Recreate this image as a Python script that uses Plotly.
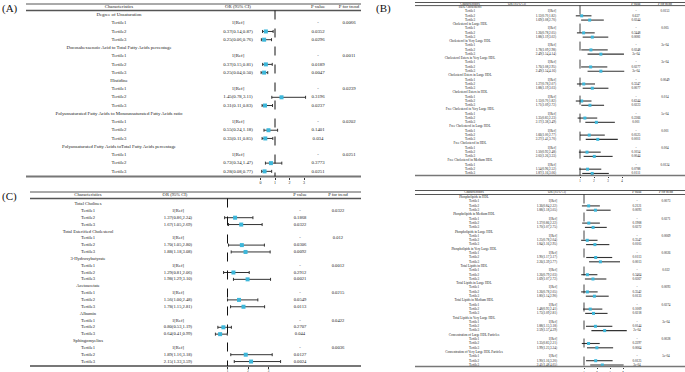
import plotly.graph_objects as go

W, H = 685, 372
FONT = "Liberation Serif"
TXT = "#222222"
MK = "#3DB7DA"
BAR = "#333333"

# ---------------- Panel A data ----------------
a_groups = ["Degree of Unsaturation",
            "Docosahexaenoic Acid to Total Fatty Acids percentage",
            "Histidine",
            "Polyunsaturated Fatty Acids to Monounsaturated Fatty Acids ratio",
            "Polyunsaturated Fatty Acids toTotal Fatty Acids percentage"]
a_or_t2 = [0.37, 0.37, 1.45, 0.55, 0.72]
a_lo_t2 = [0.14, 0.15, 0.78, 0.24, 0.34]
a_hi_t2 = [0.87, 0.81, 3.11, 1.18, 1.47]
a_or_t3 = [0.25, 0.25, 0.31, 0.33, 0.28]
a_lo_t3 = [0.06, 0.04, 0.11, 0.11, 0.08]
a_hi_t3 = [0.76, 0.50, 0.83, 0.85, 0.77]
a_p_t2 = ["0.0352", "0.0189", "0.3196", "0.1401", "0.3773"]
a_p_t3 = ["0.0296", "0.0047", "0.0237", "0.034", "0.0251"]
a_trend = ["0.0066", "0.0011", "0.0239", "0.0202", "0.0251"]
a_ticks = [0, 1, 2, 3]

# ---------------- Panel B data ----------------
b_groups = ["HDL Cholesterol", "Cholesterol in Large HDL", "Cholesterol in Very Large HDL",
            "Cholesterol Esters in Very Large HDL", "Cholesterol Esters in Large HDL",
            "Cholesterol Esters in HDL", "Free Cholesterol in Very Large HDL",
            "Free Cholesterol in Large HDL", "Free Cholesterol in HDL",
            "Free Cholesterol in Medium HDL"]
b_or_t2 = [1.12, 1.26, 1.78, 1.76, 1.27, 1.12, 1.35, 1.66, 1.50, 1.54]
b_lo_t2 = [0.70, 0.78, 1.09, 1.08, 0.78, 0.70, 0.83, 1.00, 0.92, 0.96]
b_hi_t2 = [1.82, 2.05, 2.98, 2.95, 2.07, 1.82, 2.23, 2.77, 2.48, 2.52]
b_or_t3 = [1.69, 1.88, 2.49, 2.49, 1.88, 1.71, 2.17, 2.27, 2.02, 1.87]
b_lo_t3 = [1.08, 1.19, 1.54, 1.54, 1.19, 1.09, 1.38, 1.41, 1.26, 1.16]
b_hi_t3 = [2.70, 3.02, 4.14, 4.16, 3.03, 2.72, 3.49, 3.70, 3.33, 3.06]
b_p_t2 = ["0.637", "0.3448", "0.0248", "0.0277", "0.3347", "0.6344", "0.2266", "0.0525", "0.1054", "0.0788"]
b_p_t3 = ["0.0244", "0.0081", "3e-04", "3e-04", "0.0077", "0.0223", "0.001", "0.0011", "0.0044", "0.0111"]
b_trend = ["0.0153", "0.005", "3e-04", "3e-04", "0.0049", "0.014", "5e-04", "0.001", "0.004", "0.0124"]
b_ticks = [1, 2, 3, 4]

# ---------------- Panel C data ----------------
c_groups = ["Total Cholines", "Total Esterified Cholesterol", "3-Hydroxybutyrate",
            "Acetoacetate", "Albumin", "Sphingomyelins"]
c_or_t2 = [1.37, 1.70, 1.29, 1.56, 0.80, 1.89]
c_lo_t2 = [0.86, 1.05, 0.81, 1.00, 0.53, 1.16]
c_hi_t2 = [2.24, 2.80, 2.06, 2.48, 1.19, 3.18]
c_or_t3 = [1.67, 1.88, 1.98, 1.78, 0.64, 2.15]
c_lo_t3 = [1.05, 1.18, 1.29, 1.15, 0.41, 1.33]
c_hi_t3 = [2.69, 3.08, 3.10, 2.81, 0.99, 3.59]
c_p_t2 = ["0.1868", "0.0306", "0.2912", "0.0549", "0.2707", "0.0127"]
c_p_t3 = ["0.0322", "0.0092", "0.0021", "0.0113", "0.044", "0.0024"]
c_trend = ["0.0322", "0.012", "0.0012", "0.0215", "0.0422", "0.0036"]
c_ticks = [1, 2, 3]

# ---------------- Panel D data ----------------
d_groups = ["Phospholipids in HDL", "Phospholipids in Medium HDL", "Phospholipids in Large HDL",
            "Phospholipids in Very Large HDL", "Total Lipids in HDL", "Total Lipids in Large HDL",
            "Total Lipids in Medium HDL", "Total Lipids in Very Large HDL",
            "Concentration of Large HDL Particles", "Concentration of Very Large HDL Particles"]
d_or_t2 = [1.36, 1.37, 1.25, 1.90, 1.26, 1.26, 1.48, 1.88, 1.35, 1.90]
d_lo_t2 = [0.84, 0.86, 0.78, 1.17, 0.79, 0.78, 0.93, 1.15, 0.83, 1.16]
d_hi_t2 = [2.22, 2.22, 2.04, 3.17, 2.03, 2.05, 2.41, 3.18, 2.21, 3.20]
d_or_t3 = [1.88, 1.70, 1.84, 2.26, 1.69, 1.80, 1.73, 2.59, 1.99, 2.41]
d_lo_t3 = [1.18, 1.07, 1.16, 1.39, 1.07, 1.14, 1.09, 1.57, 1.23, 1.48]
d_hi_t3 = [3.05, 2.75, 2.95, 3.77, 2.72, 2.90, 2.81, 4.29, 3.24, 4.05]
d_p_t2 = ["0.2121", "0.1908", "0.3547", "0.0113", "0.3464", "0.3542", "0.1009", "0.0144", "0.2297", "0.0125"]
d_p_t3 = ["0.0093", "0.0272", "0.0105", "0.0013", "0.0267", "0.0133", "0.0218", "2e-04", "0.0064", "3e-04"]
d_trend = ["0.0073", "0.0271", "0.0069", "0.0026", "0.022", "0.0093", "0.0274", "3e-04", "0.0028", "5e-04"]
d_ticks = [1, 2, 3, 4]

headers = ["Characteristics", "OR (95% CI)", "P value", "P for trend"]
tertiles = ["Tertile1", "Tertile2", "Tertile3"]

fig = go.Figure()
shapes = []
annotations = []


def fmt(o, l, h):
    return f"{o:.2f}({l:.2f},{h:.2f})"


def panel(idx, label, groups, o2, l2, h2, o3, l3, h3, p2, p3, tr, ticks, g):
    xa = f"x{idx}"
    n = len(groups) * 4
    ys = [g["y0"] + i * g["dy"] for i in range(n)]
    ctext, otext, ptext, ttext = [], [], [], []
    for k, name in enumerate(groups):
        ctext += [name] + tertiles
        otext += ["", "1[Ref]", fmt(o2[k], l2[k], h2[k]), fmt(o3[k], l3[k], h3[k])]
        ptext += ["", "-", p2[k], p3[k]]
        ttext += ["", tr[k], "", ""]
    tf = dict(size=g["fs"], family=FONT, color=TXT)
    for xpos, txt, pos in [(g["cx_char"], ctext, "middle center"),
                           (g["cx_or"], otext, g["or_pos"]),
                           (g["cx_p"], ptext, "middle center"),
                           (g["cx_tr"], ttext, "middle center")]:
        fig.add_trace(go.Scatter(x=[xpos] * n, y=ys, text=txt, mode="text",
                                 textposition=pos, textfont=tf, xaxis="x", yaxis="y",
                                 hoverinfo="skip", showlegend=False))
    # header texts
    hx = [g["cx_char"], g["hx_or"], g["cx_p"], g["cx_tr"]]
    fig.add_trace(go.Scatter(x=hx, y=[g["yh"]] * 4, text=headers, mode="text",
                             textposition="middle center", textfont=tf,
                             xaxis="x", yaxis="y", hoverinfo="skip", showlegend=False))
    # forest marks: Tertile2 and Tertile3 rows
    fx, fy, ep, em = [], [], [], []
    for k in range(len(groups)):
        for o, l, h, r in [(o2[k], l2[k], h2[k], 2), (o3[k], l3[k], h3[k], 3)]:
            fx.append(o)
            fy.append(ys[4 * k + r])
            ep.append(h - o)
            em.append(o - l)
    fig.add_trace(go.Scatter(x=fx, y=fy, mode="markers", xaxis=xa, yaxis="y",
                             marker=dict(symbol="square", size=g["ms"], color=MK),
                             error_x=dict(type="data", array=ep, arrayminus=em, symmetric=False,
                                          color=BAR, thickness=g["lw"], width=g["cap"]),
                             cliponaxis=False, hoverinfo="skip", showlegend=False))
    # forest axis
    d0, d1, px1, ppu = g["dom0"], g["dom1"], g["px1"], g["ppu"]
    fig.update_layout(**{f"xaxis{idx}": dict(
        domain=[d0 / W, d1 / W],
        range=[1 + (d0 - px1) / ppu, 1 + (d1 - px1) / ppu],
        anchor="free", position=1 - g["ybot"] / H,
        showgrid=False, zeroline=False, showline=False,
        tickvals=ticks, ticks="outside", ticklen=g["tl"], tickwidth=0.8, tickcolor="#333",
        ticklabelstandoff=0,
        tickfont=dict(size=g["tfs"], family=FONT, color=TXT), fixedrange=True)})
    # table lines
    x0, x1 = g["tx0"], g["tx1"]
    shapes.append(dict(type="line", xref="x", yref="y", x0=x0, x1=x1, y0=g["ytop"], y1=g["ytop"],
                       line=dict(color="#555", width=1)))
    shapes.append(dict(type="line", xref="x", yref="y", x0=x0, x1=x1, y0=g["yund"], y1=g["yund"],
                       line=dict(color="#555", width=g["uw"])))
    shapes.append(dict(type="line", xref="x", yref="y", x0=x0, x1=x1, y0=g["ybot"], y1=g["ybot"],
                       line=dict(color="#777", width=g["bw"])))
    shapes.append(dict(type="line", xref=xa, yref="y", x0=1, x1=1, y0=g["yund"], y1=g["ybot"],
                       line=dict(color="#111", width=g["dw"], dash="dash")))
    if label:
        annotations.append(dict(x=g["lx"], y=g["ly"], xref="x", yref="y", text=label,
                                showarrow=False, xanchor="left", yanchor="middle",
                                font=dict(size=11, family=FONT, color="#111")))


panel(2, "(A)", a_groups, a_or_t2, a_lo_t2, a_hi_t2, a_or_t3, a_lo_t3, a_hi_t3,
      a_p_t2, a_p_t3, a_trend, a_ticks,
      dict(y0=15, dy=8.23, yh=7.3, ytop=4, yund=10.5, ybot=176.5, tx0=26, tx1=361,
           cx_char=119, cx_or=238, hx_or=238, or_pos="middle center", cx_p=318, cx_tr=349,
           dom0=250, dom1=320, px1=275, ppu=14.5, fs=4.8, tfs=4, tl=2, ms=4, lw=1, cap=1.5,
           uw=1.5, bw=2, dw=1, lx=0, ly=8))
panel(3, "(B)", b_groups, b_or_t2, b_lo_t2, b_hi_t2, b_or_t3, b_lo_t3, b_hi_t3,
      b_p_t2, b_p_t3, b_trend, b_ticks,
      dict(y0=7.3, dy=4.26, yh=4.1, ytop=2.5, yund=5.6, ybot=175.5, tx0=415, tx1=685,
           cx_char=470, cx_or=556, hx_or=517, or_pos="middle left", cx_p=636, cx_tr=665,
           dom0=565, dom1=635, px1=580, ppu=14, fs=3.3, tfs=3, tl=1.5, ms=3, lw=1.1, cap=0,
           uw=1, bw=1.5, dw=0.8, lx=374, ly=8))
panel(4, "(C)", c_groups, c_or_t2, c_lo_t2, c_hi_t2, c_or_t3, c_lo_t3, c_hi_t3,
      c_p_t2, c_p_t3, c_trend, c_ticks,
      dict(y0=204, dy=6.85, yh=195.3, ytop=192, yund=198.5, ybot=366, tx0=30, tx1=361,
           cx_char=88, cx_or=178, hx_or=175, or_pos="middle center", cx_p=300, cx_tr=338,
           dom0=205, dom1=295, px1=227.5, ppu=20.5, fs=4.6, tfs=3.2, tl=1.5, ms=4, lw=1, cap=1.5,
           uw=1.5, bw=2, dw=1, lx=0, ly=196))
panel(5, None, d_groups, d_or_t2, d_lo_t2, d_hi_t2, d_or_t3, d_lo_t3, d_hi_t3,
      d_p_t2, d_p_t3, d_trend, d_ticks,
      dict(y0=197.3, dy=4.3, yh=192.5, ytop=190.5, yund=194.5, ybot=366.5, tx0=415, tx1=685,
           cx_char=474, cx_or=557, hx_or=557, or_pos="middle left", cx_p=637, cx_tr=666,
           dom0=570, dom1=640, px1=584, ppu=13, fs=3.3, tfs=2.8, tl=1, ms=3, lw=1.1, cap=0,
           uw=1, bw=1.5, dw=0.8, lx=0, ly=0))

fig.update_layout(
    width=W, height=H, autosize=False,
    margin=dict(l=0, r=0, t=0, b=0, pad=0),
    paper_bgcolor="white", plot_bgcolor="rgba(0,0,0,0)",
    xaxis=dict(domain=[0, 1], range=[0, W], visible=False, fixedrange=True),
    yaxis=dict(domain=[0, 1], range=[H, 0], visible=False, fixedrange=True),
    shapes=shapes, annotations=annotations, showlegend=False,
)

fig.write_html("out.html", config={"displayModeBar": False},
               post_script="document.body.style.margin='0px';document.body.style.padding='0px';")
